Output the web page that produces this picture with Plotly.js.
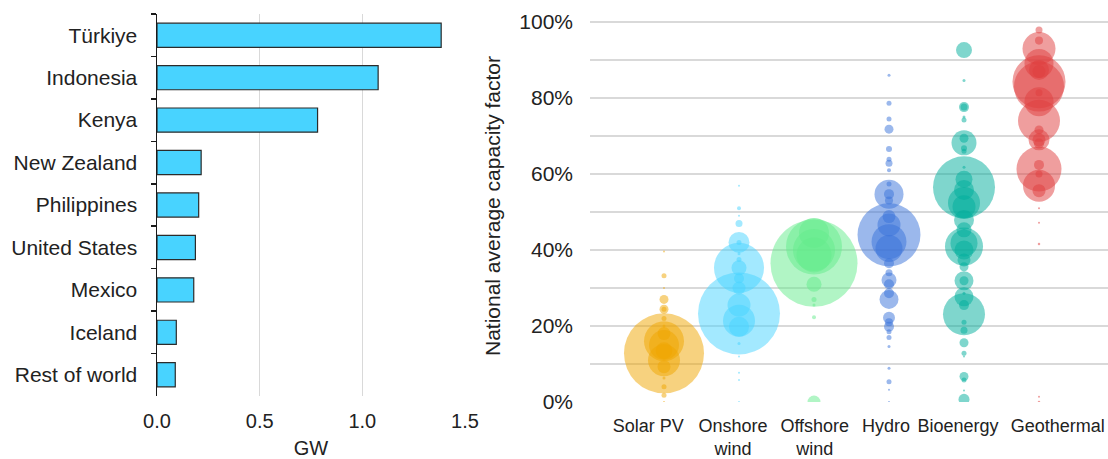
<!DOCTYPE html>
<html>
<head>
<meta charset="utf-8">
<script src="https://cdn.plot.ly/plotly-3.0.1.min.js"></script>
<style>
  html, body { margin: 0; padding: 0; background: #fff; }
  #chart { width: 1108px; height: 459px; }
</style>
</head>
<body>
<div id="chart"></div>
<script>
// ---------- Left panel: geothermal capacity additions (GW) ----------
const countries = ["Türkiye", "Indonesia", "Kenya", "New Zealand", "Philippines",
                   "United States", "Mexico", "Iceland", "Rest of world"];
const capacityGW = [1.384, 1.077, 0.782, 0.215, 0.203, 0.187, 0.179, 0.094, 0.089];
const gwTicks = [0, 0.5, 1.0, 1.5];

// ---------- Right panel: national average capacity factors ----------
const techs = ["Solar PV", "Onshore<br>wind", "Offshore<br>wind", "Hydro", "Bioenergy", "Geothermal"];
const techColors = ["#EFA600", "#47D3FF", "#64EB8C", "#3871DA", "#00AD9B", "#DF3E3E"];

const solarCF = [0.396, 0.332, 0.30, 0.27, 0.244, 0.244, 0.22, 0.20, 0.18, 0.16, 0.15, 0.135, 0.128, 0.11, 0.093, 0.063, 0.04, 0.018, 0.0];
const solarW  = [0.37, 2.3, 0.37, 7.4, 7.4, 2.3, 2.3, 0.83, 15.5, 147, 82.6, 26.5, 588, 94, 15.5, 0.83, 2.3, 2.3, 0.37];

const onshoreCF = [0.569, 0.51, 0.49, 0.47, 0.42, 0.42, 0.39, 0.375, 0.353, 0.353, 0.325, 0.30, 0.255, 0.233, 0.214, 0.198, 0.154, 0.12, 0.077, 0.058, 0.0];
const onshoreW  = [0.37, 1.47, 0.37, 4.5, 40.5, 2.3, 0.83, 2.3, 230, 20.7, 9.2, 15.5, 48.6, 617, 94, 36.7, 0.83, 0.37, 0.37, 0.37, 0.37];

const offshoreCF = [0.445, 0.409, 0.40, 0.387, 0.365, 0.31, 0.27, 0.255, 0.223, 0.0];
const offshoreW  = [82.6, 288, 162, 112, 695, 20.7, 2.3, 0.83, 1.47, 15.5];

const hydroCF = [0.86, 0.786, 0.745, 0.718, 0.666, 0.639, 0.628, 0.61, 0.574, 0.547, 0.547, 0.53, 0.488, 0.466, 0.44, 0.422, 0.404, 0.365, 0.34, 0.321, 0.31, 0.286, 0.27, 0.222, 0.21, 0.198, 0.185, 0.17, 0.146, 0.089, 0.053, 0.032, 0.0];
const hydroW  = [0.83, 2.3, 2.3, 7.4, 3.3, 2.3, 4.5, 1.47, 2.3, 77.2, 9.2, 5.9, 15.5, 48.6, 364, 112, 66.9, 9.2, 4.5, 20.7, 9.2, 9.2, 33.1, 13.2, 5.9, 9.2, 2.3, 2.3, 0.83, 0.83, 2.3, 0.21, 0.37];

const bioCF = [0.926, 0.846, 0.776, 0.776, 0.75, 0.742, 0.694, 0.682, 0.668, 0.66, 0.618, 0.586, 0.565, 0.558, 0.524, 0.514, 0.479, 0.453, 0.418, 0.409, 0.40, 0.374, 0.356, 0.319, 0.319, 0.286, 0.277, 0.255, 0.231, 0.21, 0.189, 0.156, 0.128, 0.12, 0.067, 0.058, 0.03, 0.007];
const bioW  = [23.5, 0.83, 9.2, 4.5, 0.83, 2.3, 7.4, 57.4, 3.3, 2.3, 0.83, 26.5, 353, 36.7, 94, 48.6, 36.7, 20.7, 66.9, 133, 33.1, 15.5, 7.4, 33.1, 7.4, 0.83, 33.1, 9.2, 162, 2.3, 4.5, 7.4, 2.3, 0.37, 7.4, 2.3, 0.37, 11.1];

const geoCF = [0.979, 0.951, 0.93, 0.891, 0.874, 0.87, 0.843, 0.83, 0.814, 0.79, 0.74, 0.716, 0.69, 0.69, 0.68, 0.624, 0.613, 0.60, 0.569, 0.556, 0.51, 0.472, 0.416, 0.014, 0.0];
const geoW  = [4.5, 5.9, 100, 77.2, 36.7, 15.5, 258, 230, 4.5, 77.2, 162, 7.4, 40.5, 15.5, 9.2, 9.2, 186, 4.5, 94, 15.5, 0.09, 0.37, 0.57, 0.09, 0.57];

const cfTicks = [0, 0.2, 0.4, 0.6, 0.8, 1.0];

const cfSeries = [solarCF, onshoreCF, offshoreCF, hydroCF, bioCF, geoCF];
const wSeries  = [solarW, onshoreW, offshoreW, hydroW, bioW, geoW];

// style: horizontal nudge of each category label relative to its column (in column widths)
const labelNudge = [-0.21, -0.08, 0.01, -0.04, -0.08, 0.25];

const FONT = "Liberation Sans, Arial, Helvetica, sans-serif";
const TXT = "#222222";
const GRID = "#d9d9d9";

const traces = [];
traces.push({
  type: "bar",
  orientation: "h",
  y: countries,
  x: capacityGW,
  xaxis: "x",
  yaxis: "y",
  marker: { color: "#48D3FF", line: { color: "#2b2b2b", width: 1.2 } },
  hoverinfo: "x+y",
  showlegend: false
});

techs.forEach((t, i) => {
  traces.push({
    type: "scatter",
    mode: "markers",
    x: cfSeries[i].map(() => i),
    y: cfSeries[i],
    xaxis: "x2",
    yaxis: "y2",
    marker: {
      size: wSeries[i],
      sizemode: "area",
      sizeref: 2 / 10.89,
      sizemin: 1,
      color: techColors[i],
      opacity: 0.5,
      line: { width: 0 }
    },
    name: t.replace("<br>", " "),
    showlegend: false,
    hoverinfo: "name+y"
  });
});

const W = 1108, H = 459;
const layout = {
  width: W, height: H,
  margin: { l: 0, r: 0, t: 0, b: 0 },
  paper_bgcolor: "#ffffff",
  plot_bgcolor: "rgba(0,0,0,0)",
  font: { family: FONT, color: TXT, size: 21 },
  bargap: 0.43,
  xaxis: {
    domain: [157 / W, 465 / W],
    anchor: "y",
    range: [0, 1.5],
    tickvals: gwTicks,
    tickformat: ".1f",
    showgrid: true,
    gridcolor: GRID,
    gridwidth: 1.5,
    zeroline: false,
    showline: false,
    ticks: "",
    tickfont: { size: 20, color: TXT },
    ticklabelstandoff: 11,
    title: { text: "GW", font: { size: 20, color: TXT }, standoff: 9 }
  },
  yaxis: {
    domain: [(H - 396) / H, (H - 14) / H],
    anchor: "x",
    type: "category",
    categoryorder: "array",
    categoryarray: countries,
    range: [8.5, -0.5],
    showline: true,
    linecolor: "#1a1a1a",
    linewidth: 1.5,
    ticks: "outside",
    tickson: "boundaries",
    ticklen: 5,
    tickwidth: 1.5,
    tickcolor: "#1a1a1a",
    showgrid: false,
    zeroline: false,
    tickfont: { size: 21, color: TXT },
    ticklabelstandoff: 14
  },
  xaxis2: {
    domain: [590 / W, 1],
    anchor: "y2",
    type: "linear",
    range: [-74 / 75, 444 / 75],
    tickmode: "array",
    tickvals: techs.map((t, i) => i + labelNudge[i]),
    ticktext: techs,
    showgrid: false,
    zeroline: false,
    showline: false,
    ticks: "",
    tickangle: 0,
    tickfont: { size: 18, color: TXT },
    ticklabelstandoff: 11
  },
  yaxis2: {
    domain: [(H - 402) / H, (H - 10) / H],
    anchor: "x2",
    range: [0, 1 + 12 / 380],
    tickvals: cfTicks,
    tickformat: ".0%",
    showgrid: true,
    gridcolor: GRID,
    gridwidth: 1.5,
    minor: { dtick: 0.1, tick0: 0, showgrid: true, gridcolor: GRID, gridwidth: 1.5 },
    zeroline: false,
    showline: false,
    ticks: "",
    tickfont: { size: 21, color: TXT },
    ticklabelstandoff: 16,
    title: { text: "National average capacity factor", font: { size: 21, color: TXT }, standoff: 12 }
  }
};

Plotly.newPlot("chart", traces, layout, { displayModeBar: false, staticPlot: true });
</script>
</body>
</html>
